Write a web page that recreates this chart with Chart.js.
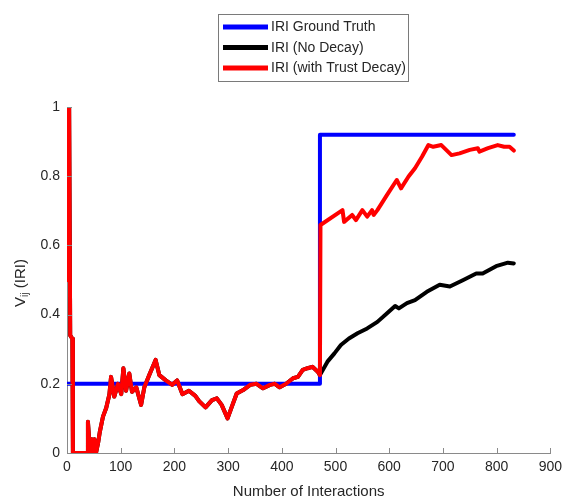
<!DOCTYPE html>
<html>
<head>
<meta charset="utf-8">
<script src="https://cdn.jsdelivr.net/npm/chart.js@4.4.1/dist/chart.umd.min.js"></script>
<style>
  html, body { margin: 0; padding: 0; background: #fff; }
  #wrap { width: 568px; height: 503px; }
</style>
</head>
<body>
<div id="wrap"><canvas id="lineChart" width="568" height="503"></canvas></div>
<script>
// series
var seriesNames = ["IRI Ground Truth", "IRI (No Decay)", "IRI (with Trust Decay)"];

var truthX = [0, 471, 471, 832];
var truthY = [0.2, 0.2, 0.92, 0.92];

var decayX = [0, 1, 4, 6, 10, 11, 38, 39, 43, 46, 49, 51, 54, 58, 61, 67, 73, 79, 82, 88, 95, 101, 105, 110, 116, 121, 129, 138, 144, 153, 165, 172, 184, 196, 205, 215, 227, 239, 246, 258, 270, 279, 288, 299, 307, 316, 328, 341, 353, 365, 378, 387, 396, 408, 421, 430, 439, 448, 457, 467, 471,
              472, 513, 516, 531, 538, 550, 559, 568, 571, 578, 596, 614, 622, 636, 648, 661, 673, 682, 697, 716, 731, 750, 765, 768, 784, 802, 814, 824, 832];
var decayY = [0.5, 1.0, 1.0, 0.34, 0.33, 0, 0, 0.09, 0.0, 0.04, 0.0, 0.04, 0.0, 0.03, 0.06, 0.105, 0.13, 0.17, 0.22, 0.163, 0.2, 0.17, 0.245, 0.18, 0.23, 0.177, 0.19, 0.139, 0.19, 0.225, 0.269, 0.225, 0.21, 0.197, 0.21, 0.17, 0.18, 0.165, 0.15, 0.132, 0.153, 0.158, 0.139, 0.10, 0.134, 0.172, 0.182, 0.197, 0.2, 0.187, 0.197, 0.2, 0.19, 0.2, 0.216, 0.22, 0.24, 0.245, 0.249, 0.235, 0.225,
              0.659, 0.702, 0.668, 0.688, 0.673, 0.702, 0.683, 0.702, 0.688, 0.702, 0.746, 0.789, 0.765, 0.799, 0.823, 0.856, 0.89, 0.885, 0.89, 0.861, 0.866, 0.876, 0.881, 0.871, 0.881, 0.89, 0.885, 0.885, 0.874];

// no-decay curve follows the trust decay one (hidden under it) until the switch
var noDecayX = decayX.slice(0, 61).concat([485, 498, 510, 525, 541, 559, 578, 596, 611, 618, 633, 648, 670, 694, 713, 738, 762, 774, 799, 821, 832]);
var noDecayY = decayY.slice(0, 61).concat([0.264, 0.288, 0.312, 0.331, 0.346, 0.36, 0.379, 0.404, 0.425, 0.418, 0.433, 0.442, 0.466, 0.486, 0.481, 0.5, 0.519, 0.519, 0.54, 0.55, 0.548]);

var xTicks = [0, 100, 200, 300, 400, 500, 600, 700, 800, 900];
var yTicks = [0, 0.2, 0.4, 0.6, 0.8, 1];
var yTickLabels = ["0", "0.2", "0.4", "0.6", "0.8", "1"];

function pts(xs, ys) {
    return xs.map(function (x, i) { return {x: x, y: ys[i]}; });
}

var FONT = "'Liberation Sans', Arial, sans-serif";
var TXT = "#262626";
var AXIS = "#8a8a8a";

// legend box, inward ticks and the y title with its subscript
var decor = {
    id: "decor",
    afterDraw: function (chart) {
        var ctx = chart.ctx;
        var xs = chart.scales.x, ys = chart.scales.y;
        var area = chart.chartArea;
        ctx.save();

        ctx.strokeStyle = AXIS;
        ctx.lineWidth = 1;
        ctx.beginPath();
        xTicks.forEach(function (v) {
            var px = Math.round(xs.getPixelForValue(v)) + 0.5;
            ctx.moveTo(px, area.bottom);
            ctx.lineTo(px, area.bottom - 5);
        });
        yTicks.forEach(function (v) {
            var py = Math.round(ys.getPixelForValue(v)) + 0.5;
            ctx.moveTo(area.left, py);
            ctx.lineTo(area.left + 5, py);
        });
        ctx.stroke();

        // legend
        ctx.fillStyle = "#fff";
        ctx.fillRect(218.5, 14.5, 190, 67);
        ctx.strokeStyle = "#7a7a7a";
        ctx.strokeRect(218.5, 14.5, 190, 67);
        ctx.font = "14px " + FONT;
        ctx.textBaseline = "middle";
        ctx.textAlign = "left";
        chart.data.datasets.forEach(function (ds, i) {
            var y = 27 + i * 20.5;
            ctx.fillStyle = ds.borderColor;
            ctx.fillRect(223, y - 2.5, 45, 5);
            ctx.fillStyle = TXT;
            ctx.fillText(ds.label, 271, y + 0.5);
        });

        // y title: V_ij (IRI)
        ctx.translate(25, 283);
        ctx.rotate(-Math.PI / 2);
        ctx.textBaseline = "alphabetic";
        ctx.fillStyle = TXT;
        var big = "15px " + FONT, small = "10px " + FONT;
        ctx.font = big;
        var wV = ctx.measureText("V").width, wRest = ctx.measureText(" (IRI)").width;
        ctx.font = small;
        var wSub = ctx.measureText("ij").width;
        var x0 = -(wV + wSub + wRest) / 2;
        ctx.font = big;
        ctx.fillText("V", x0, 0);
        ctx.font = small;
        ctx.fillText("ij", x0 + wV, 3);
        ctx.font = big;
        ctx.fillText(" (IRI)", x0 + wV + wSub, 0);
        ctx.restore();
    }
};

var ctx = document.getElementById("lineChart").getContext("2d");
var chart = new Chart(ctx, {
    type: "line",
    data: {
        datasets: [
            {
                label: seriesNames[0],
                data: pts(truthX, truthY),
                borderColor: "#0000ff",
                borderWidth: 4,
                order: 2
            },
            {
                label: seriesNames[1],
                data: pts(noDecayX, noDecayY),
                borderColor: "#000000",
                borderWidth: 4,
                order: 3
            },
            {
                label: seriesNames[2],
                data: pts(decayX, decayY),
                borderColor: "#ff0000",
                borderWidth: 4,
                order: 1
            }
        ]
    },
    options: {
        responsive: false,
        animation: false,
        devicePixelRatio: 1,
        elements: {
            point: {radius: 0},
            line: {tension: 0, fill: false, borderJoinStyle: "round", borderCapStyle: "round"}
        },
        layout: {padding: {left: 27, right: 13, top: 107, bottom: 0}},
        plugins: {
            legend: {display: false},
            tooltip: {enabled: false}
        },
        scales: {
            x: {
                type: "linear",
                min: 0,
                max: 900,
                afterBuildTicks: function (s) { s.ticks = xTicks.map(function (v) { return {value: v}; }); },
                afterFit: function (s) { s.height = 50; },
                grid: {display: true, drawOnChartArea: false, drawTicks: false},
                border: {display: true, color: AXIS, width: 1},
                ticks: {color: TXT, font: {family: FONT, size: 14}, padding: 6, maxRotation: 0},
                title: {
                    display: true,
                    text: "Number of Interactions",
                    color: TXT,
                    font: {family: FONT, size: 15},
                    padding: {top: 2, bottom: 2}
                }
            },
            y: {
                type: "linear",
                min: 0,
                max: 1,
                afterBuildTicks: function (s) { s.ticks = yTicks.map(function (v) { return {value: v}; }); },
                afterFit: function (s) { s.width = 40; },
                grid: {display: true, drawOnChartArea: false, drawTicks: false},
                border: {display: true, color: AXIS, width: 1},
                ticks: {
                    color: TXT,
                    font: {family: FONT, size: 14},
                    padding: 7,
                    callback: function (v) {
                        var i = yTicks.indexOf(v);
                        return i >= 0 ? yTickLabels[i] : "";
                    }
                }
            }
        }
    },
    plugins: [decor]
});
</script>
</body>
</html>
